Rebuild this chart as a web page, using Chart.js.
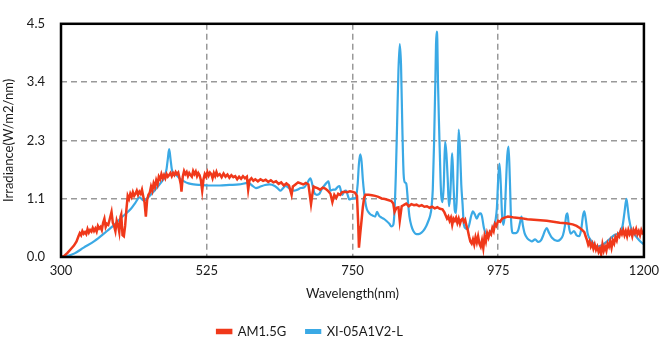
<!DOCTYPE html>
<html>
<head>
<meta charset="utf-8">
<script src="https://cdn.jsdelivr.net/npm/chart.js@4.4.1/dist/chart.umd.min.js"></script>
<style>
  html, body { margin: 0; padding: 0; background: #fff; }
  #wrap { width: 665px; height: 339px; position: relative; }
</style>
</head>
<body>
<div id="wrap"><canvas id="spectrumChart"></canvas></div>
<script>
// AM1.5G reference spectrum
const amWavelength = [300,305,310,315,320,324,327,329,331,333,335,337,339,341,343,345,347,349,351,353,355,357,359,361,363,365,367,369,371,373,375,377,378,380,382,384,386,388,390,392,393,395,397,399,401,403,405,407,409,411,413,415,417,419,421,423,425,427,429,431,433,435,437,439,441,443,445,447,449,451,453,455,457,459,461,463,465,467,469,471,473,475,477,479,481,483,485,486,488,490,492,494,496,498,500,502,504,506,508,510,512,514,516,518,520,522,524,526,528,530,532,534,536,538,540,542,545,548,551,554,557,560,563,566,569,572,575,578,581,584,587,589,591,594,597,600,604,608,612,616,620,624,628,632,636,640,644,648,652,656,658,662,666,670,674,678,682,686,688,690,693,696,700,704,708,712,716,719,722,725,728,731,734,738,742,746,750,754,757,759,760,762,764,766,768,770,775,780,785,790,795,800,805,810,813,815,818,821,823,826,829,833,837,841,845,849,853,857,861,865,869,873,877,881,885,889,892,894,896,898,900,902,904,906,908,910,912,914,916,918,920,922,924,926,928,930,932,934,936,938,940,942,944,946,948,950,952,954,956,958,960,962,964,966,968,970,972,975,978,981,985,990,995,1000,1010,1020,1030,1040,1050,1060,1070,1080,1090,1096,1101,1105,1108,1110,1112,1114,1116,1118,1120,1122,1124,1126,1128,1130,1132,1134,1136,1138,1140,1142,1144,1146,1148,1150,1152,1154,1156,1158,1160,1162,1164,1166,1168,1170,1172,1174,1176,1178,1180,1182,1184,1186,1188,1190,1192,1194,1196,1198,1200];
const amIrradiance = [0.00,0.02,0.08,0.15,0.22,0.30,0.40,0.46,0.42,0.50,0.45,0.48,0.44,0.54,0.47,0.52,0.49,0.56,0.50,0.55,0.49,0.60,0.55,0.58,0.52,0.66,0.74,0.58,0.64,0.62,0.72,0.82,0.87,0.66,0.60,0.50,0.70,0.62,0.48,0.78,0.82,0.42,0.40,0.60,0.92,1.18,1.12,1.22,1.16,1.25,1.18,1.22,1.28,1.20,1.26,1.22,1.30,1.17,1.05,0.78,1.10,1.20,1.24,1.36,1.28,1.42,1.35,1.48,1.40,1.55,1.50,1.60,1.52,1.58,1.52,1.60,1.55,1.58,1.62,1.56,1.62,1.58,1.64,1.60,1.63,1.52,1.40,1.26,1.55,1.66,1.60,1.64,1.56,1.62,1.58,1.55,1.66,1.60,1.65,1.56,1.62,1.58,1.48,1.28,1.50,1.60,1.55,1.64,1.57,1.63,1.60,1.52,1.62,1.56,1.64,1.57,1.60,1.54,1.61,1.55,1.59,1.53,1.58,1.54,1.56,1.50,1.55,1.51,1.56,1.52,1.55,1.30,1.48,1.52,1.47,1.50,1.46,1.50,1.47,1.49,1.45,1.48,1.44,1.46,1.41,1.44,1.38,1.42,1.38,1.20,1.36,1.40,1.44,1.42,1.40,1.43,1.40,1.02,1.20,1.36,1.34,1.33,1.30,1.34,1.32,1.28,1.22,1.06,1.20,1.14,1.22,1.20,1.25,1.26,1.25,1.27,1.26,1.24,1.18,0.60,0.18,0.45,0.70,0.96,1.14,1.20,1.20,1.19,1.18,1.16,1.13,1.12,1.10,1.08,1.03,0.87,0.95,0.96,0.70,0.98,1.00,1.03,0.98,1.02,1.00,1.01,0.98,1.00,0.97,0.98,0.95,0.97,0.94,0.96,0.93,0.92,0.86,0.80,0.74,0.78,0.70,0.76,0.62,0.74,0.70,0.76,0.66,0.74,0.64,0.72,0.74,0.68,0.72,0.60,0.52,0.40,0.30,0.26,0.34,0.24,0.38,0.28,0.40,0.26,0.20,0.32,0.17,0.40,0.30,0.46,0.38,0.48,0.44,0.56,0.50,0.64,0.60,0.70,0.68,0.74,0.76,0.78,0.77,0.76,0.75,0.73,0.72,0.71,0.70,0.68,0.66,0.65,0.63,0.60,0.56,0.52,0.48,0.40,0.33,0.24,0.30,0.20,0.26,0.16,0.24,0.14,0.20,0.10,0.16,0.05,0.24,0.12,0.20,0.12,0.26,0.20,0.30,0.18,0.32,0.26,0.38,0.32,0.44,0.40,0.50,0.44,0.52,0.42,0.50,0.40,0.52,0.44,0.50,0.40,0.52,0.46,0.54,0.44,0.50,0.42,0.52,0.46,0.48];

// XI-05A1V2-L lamp spectrum
const xiWavelength = [300,310,321,335,352,368,383,395,408,415,421,428,436,444,454,460,463,465,467,469,471,473,478,483,490,497,505,515,528,545,560,575,589,595,601,608,615,622,630,635,639,643,647,651,655,660,665,670,676,680,685,688,691,695,699,703,706,710,713,716,720,723,727,730,734,737,740,743,745,750,755,758,760,762,764,766,768,770,772,775,778,781,785,788,791,795,798,803,807,810,813,815,817,819,821,823,825,827,829,831,833,836,838,841,844,849,854,859,864,867,870,872,874,876,878,879,880,881,882,884,886,887,889,891,893,895,897,899,901,903,904,906,908,910,912,914,916,918,920,922,925,928,931,933,936,939,942,945,948,950,953,956,959,963,966,969,971,973,975,977,979,981,983,985,987,989,991,993,995,998,1002,1006,1009,1011,1013,1016,1020,1024,1027,1032,1037,1041,1044,1047,1050,1053,1058,1066,1071,1075,1078,1080,1082,1084,1087,1092,1096,1100,1103,1106,1108,1110,1113,1117,1121,1127,1134,1144,1154,1163,1167,1170,1173,1175,1177,1181,1185,1193,1200];
const xiIrradiance = [0.00,0.02,0.07,0.18,0.31,0.47,0.63,0.78,0.93,1.05,1.15,1.09,1.17,1.28,1.43,1.55,1.70,1.90,2.08,1.90,1.70,1.62,1.58,1.52,1.46,1.42,1.40,1.39,1.38,1.38,1.39,1.40,1.43,1.38,1.33,1.36,1.39,1.40,1.37,1.32,1.28,1.33,1.37,1.34,1.30,1.28,1.30,1.33,1.35,1.42,1.52,1.40,1.24,1.20,1.22,1.32,1.37,1.43,1.46,1.28,1.30,1.30,1.35,1.37,1.20,1.26,1.28,1.18,1.11,1.13,1.14,1.40,1.80,1.98,1.85,1.50,1.24,1.05,0.93,0.86,0.82,0.80,0.78,0.87,0.80,0.76,0.74,0.69,0.64,0.59,0.62,0.90,1.60,2.60,3.60,4.11,3.70,2.50,1.60,1.44,1.42,1.02,0.78,0.60,0.50,0.44,0.45,0.50,0.60,0.69,0.80,0.95,1.30,2.20,3.40,4.10,4.35,4.20,3.40,2.40,1.50,1.20,1.06,1.40,2.22,2.00,1.52,0.98,1.20,1.80,2.00,1.40,0.90,0.85,1.50,2.46,2.10,1.40,1.02,0.62,0.55,0.54,0.66,0.78,0.88,0.82,0.74,0.82,0.84,0.78,0.56,0.46,0.44,0.48,0.54,0.62,0.72,0.95,1.50,1.80,1.40,0.80,0.62,0.80,1.40,1.95,2.13,1.50,0.69,0.46,0.46,0.52,0.68,0.78,0.62,0.45,0.36,0.32,0.30,0.34,0.29,0.32,0.40,0.50,0.56,0.48,0.37,0.31,0.34,0.42,0.60,0.80,0.84,0.60,0.45,0.50,0.42,0.40,0.52,0.80,0.88,0.75,0.46,0.34,0.28,0.20,0.22,0.31,0.42,0.48,0.60,0.86,1.12,0.95,0.74,0.52,0.44,0.32,0.24];

const xTicks = [300, 525, 750, 975, 1200];
const yTicks = [0, 1.125, 2.25, 3.375, 4.5];

const amColor = '#F0381A';
const xiColor = '#3AA9E5';

function toPoints(xs, ys) {
    return xs.map((x, i) => ({ x: x, y: ys[i] }));
}

// black frame round the plot area
const framePlugin = {
    id: 'frame',
    afterDatasetsDraw(chart) {
        const { ctx, chartArea } = chart;
        ctx.save();
        ctx.strokeStyle = '#000';
        ctx.lineWidth = 2.5;
        ctx.strokeRect(chartArea.left, chartArea.top, chartArea.right - chartArea.left, chartArea.bottom - chartArea.top);
        ctx.restore();
    }
};

// keep the legend short and a little left of centre, like the original
const legendPlacePlugin = {
    id: 'legendPlace',
    beforeLayout(chart) {
        const legend = chart.legend;
        if (legend && !legend.fitPatched) {
            const fit = legend.fit;
            legend.fit = function () {
                fit.call(this);
                this.height = 34;
            };
            legend.fitPatched = true;
        }
    },
    afterLayout(chart) {
        if (chart.legend) {
            chart.legend.left -= 15;
            chart.legend.right -= 15;
        }
    }
};

Chart.defaults.font.family = 'Lato, "Open Sans", sans-serif';
Chart.defaults.font.size = 13;
Chart.defaults.color = '#1a1a1a';

const ctx = document.getElementById('spectrumChart').getContext('2d');
const spectrumChart = new Chart(ctx, {
    type: 'line',
    data: {
        datasets: [{
            label: 'AM1.5G',
            data: toPoints(amWavelength, amIrradiance),
            borderColor: amColor,
            backgroundColor: amColor,
            borderWidth: 2.5,
            pointRadius: 0,
            tension: 0
        }, {
            label: 'XI-05A1V2-L',
            data: toPoints(xiWavelength, xiIrradiance),
            borderColor: xiColor,
            backgroundColor: xiColor,
            borderWidth: 2.2,
            pointRadius: 0,
            cubicInterpolationMode: 'monotone'
        }]
    },
    options: {
        responsive: true,
        maintainAspectRatio: false,
        animation: false,
        layout: {
            padding: { left: 0, right: 15, top: 14, bottom: 0 }
        },
        scales: {
            x: {
                type: 'linear',
                min: 300,
                max: 1200,
                afterBuildTicks: s => { s.ticks = xTicks.map(v => ({ value: v })); },
                afterFit: s => { s.height = 48; },
                ticks: { padding: 6, maxRotation: 0, callback: v => String(v) },
                grid: { color: '#999', lineWidth: 1.5, drawTicks: false },
                border: { display: false, dash: [6, 4] },
                title: { display: true, text: 'Wavelength(nm)', padding: { top: 0, bottom: 3 } }
            },
            y: {
                min: 0,
                max: 4.5,
                afterBuildTicks: s => { s.ticks = yTicks.map(v => ({ value: v })); },
                afterFit: s => { s.width = 61; },
                ticks: { padding: 16, callback: v => v.toFixed(1) },
                grid: { color: '#999', lineWidth: 1.5, drawTicks: false },
                border: { display: false, dash: [6, 4] },
                title: { display: true, text: 'Irradiance(W/m2/nm)', padding: { top: 1, bottom: 0 } }
            }
        },
        plugins: {
            legend: {
                position: 'bottom',
                labels: { boxWidth: 14, boxHeight: 3, padding: 20 }
            },
            tooltip: { enabled: false }
        }
    },
    plugins: [framePlugin, legendPlacePlugin]
});
</script>
</body>
</html>
